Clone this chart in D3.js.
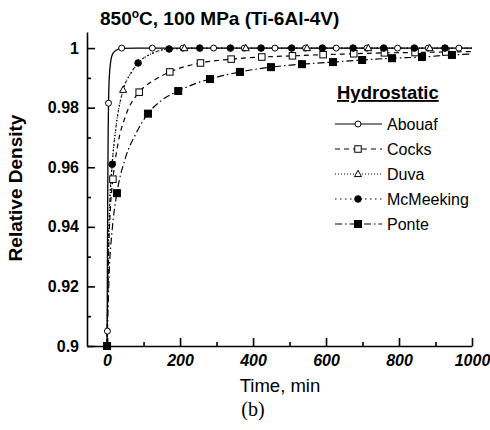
<!DOCTYPE html>
<html>
<head>
<meta charset="utf-8">
<script src="https://cdn.jsdelivr.net/npm/d3@7"></script>
<style>
  body { margin: 0; background: #fff; }
  text { font-family: "Liberation Sans", Arial, sans-serif; fill: #000; }
</style>
</head>
<body>
<div id="chart"></div>
<script>
// tick values and labels
const xTicks = [0, 200, 400, 600, 800, 1000];
const xMinor = [100, 300, 500, 700, 900];
const yTicks = [0.9, 0.92, 0.94, 0.96, 0.98, 1];
const yTickLabels = ["0.9", "0.92", "0.94", "0.96", "0.98", "1"];
const yMinor = [0.91, 0.93, 0.95, 0.97, 0.99];

// series names (legend order)
const names = ["Abouaf", "Cocks", "Duva", "McMeeking", "Ponte"];

// curves: [time (min), relative density]
const abouafLine = [[0, 0.9], [1, 0.93], [2, 0.955], [3, 0.972], [4, 0.9815], [6, 0.99], [10, 0.9955], [15, 0.998], [25, 0.9993], [40, 0.9999], [80, 1], [1000, 1]];
const cocksLine = [[0, 0.9], [4, 0.93], [9, 0.946], [16, 0.956], [30, 0.968], [50, 0.977], [88, 0.9852], [130, 0.9893], [172, 0.992], [256, 0.995], [340, 0.9963], [424, 0.997], [508, 0.9974], [592, 0.9978], [676, 0.9981], [760, 0.9984], [844, 0.9985], [928, 0.9987], [1000, 0.9988]];
const duvaLine = [[0, 0.9], [3, 0.928], [7, 0.946], [14, 0.961], [25, 0.974], [44, 0.986], [65, 0.9915], [85, 0.995], [120, 0.998], [170, 0.9997], [260, 1], [1000, 1]];
const mcmeekingLine = [[0, 0.9], [3, 0.93], [7, 0.948], [14, 0.961], [25, 0.974], [44, 0.986], [65, 0.9915], [85, 0.995], [120, 0.998], [170, 0.9997], [260, 1], [1000, 1]];
const ponteLine = [[0, 0.9], [6, 0.925], [14, 0.939], [27, 0.9513], [50, 0.963], [80, 0.9715], [112, 0.978], [150, 0.9825], [195, 0.9856], [240, 0.988], [282, 0.9896], [364, 0.992], [449, 0.9936], [534, 0.9946], [619, 0.9953], [699, 0.996], [781, 0.9966], [863, 0.997], [945, 0.9977], [1000, 0.998]];

// marker points
const abouafMarks = [[1, 0.905], [4, 0.9815], [40, 1], [124, 1], [208, 1], [292, 1], [376, 1], [460, 1], [544, 1], [628, 1], [712, 1], [796, 1], [880, 1], [964, 1]];
const cocksMarks = [[16, 0.956], [88, 0.9852], [172, 0.992], [256, 0.995], [340, 0.9963], [424, 0.997], [508, 0.9974], [592, 0.9978], [676, 0.9981], [760, 0.9984], [844, 0.9985], [928, 0.9987]];
const duvaMarks = [[44, 0.986], [212, 1], [380, 1], [548, 1], [716, 1], [884, 1]];
const mcmeekingMarks = [[14, 0.961], [85, 0.995], [170, 0.9997], [254, 1], [338, 1], [422, 1], [506, 1], [590, 1], [674, 1], [758, 1], [842, 1], [926, 1]];
const ponteMarks = [[0, 0.9], [27, 0.9513], [112, 0.978], [195, 0.9856], [282, 0.9896], [364, 0.992], [449, 0.9936], [534, 0.9946], [619, 0.9953], [699, 0.996], [781, 0.9966], [863, 0.997], [945, 0.9977]];

const width = 490, height = 430;

const svg = d3.select("#chart")
  .append("svg")
  .attr("width", width)
  .attr("height", height);

// scales (x axis starts a bit left of t=0, y axis runs a bit above 1)
const x = d3.scaleLinear().domain([-55, 1000]).range([87, 472]);
const y = d3.scaleLinear().domain([0.9, 1.0054]).range([346, 32]);

// style per series
const styles = {
  Abouaf:    {line: abouafLine, marks: abouafMarks, dash: null, shape: "circle", fill: false},
  Cocks:     {line: cocksLine, marks: cocksMarks, dash: "5,4", shape: "square", fill: false},
  Duva:      {line: duvaLine, marks: duvaMarks, dash: "1,2", shape: "triangle", fill: false},
  McMeeking: {line: mcmeekingLine, marks: mcmeekingMarks, dash: "1.5,3.5", shape: "circle", fill: true},
  Ponte:     {line: ponteLine, marks: ponteMarks, dash: "7,3,1.5,3", shape: "square", fill: true}
};

// axes
const xAxis = svg.append("g")
  .attr("transform", `translate(0,${y(0.9)})`)
  .call(d3.axisBottom(x).tickValues(xTicks).tickSizeInner(-8).tickSizeOuter(0).tickPadding(9)
    .tickFormat(d3.format("d")));
xAxis.selectAll("text")
  .style("font-size", "16px")
  .style("font-style", "italic")
  .style("font-weight", "bold");

svg.append("g")
  .attr("transform", `translate(0,${y(0.9)})`)
  .call(d3.axisBottom(x).tickValues(xMinor).tickSize(-4).tickFormat(""))
  .select(".domain").remove();

const yAxis = svg.append("g")
  .attr("transform", `translate(${x(-55)},0)`)
  .call(d3.axisLeft(y).tickValues(yTicks).tickSizeInner(-8).tickSizeOuter(0).tickPadding(8)
    .tickFormat((d, i) => yTickLabels[i]));
yAxis.selectAll("text")
  .style("font-size", "16px")
  .style("font-weight", "bold");

svg.append("g")
  .attr("transform", `translate(${x(-55)},0)`)
  .call(d3.axisLeft(y).tickValues(yMinor).tickSize(-4).tickFormat(""))
  .select(".domain").remove();

svg.selectAll(".domain, .tick line")
  .attr("stroke", "#000")
  .attr("stroke-width", 1.6);

// curves
const line = d3.line()
  .x(d => x(d[0]))
  .y(d => y(d[1]))
  .curve(d3.curveMonotoneX);

names.forEach(n => {
  const s = styles[n];
  svg.append("path")
    .datum(s.line)
    .attr("fill", "none")
    .attr("stroke", "#000")
    .attr("stroke-width", n === "Abouaf" ? 1.3 : 1.2)
    .attr("stroke-dasharray", s.dash)
    .attr("d", line);
});

// marker drawing
function marker(g, shape, fill, cx, cy) {
  if (shape === "circle") {
    g.append("circle")
      .attr("cx", cx).attr("cy", cy)
      .attr("r", fill ? 3.3 : 3)
      .attr("fill", fill ? "#000" : "#fff")
      .attr("stroke", "#000").attr("stroke-width", 1);
  } else if (shape === "square") {
    const s = fill ? 7 : 6.5;
    g.append("rect")
      .attr("x", cx - s / 2).attr("y", cy - s / 2)
      .attr("width", s).attr("height", s)
      .attr("fill", fill ? "#000" : "#fff")
      .attr("stroke", "#000").attr("stroke-width", 1);
  } else {
    g.append("path")
      .attr("d", `M${cx},${cy - 3.8}L${cx + 3.5},${cy + 2.6}L${cx - 3.5},${cy + 2.6}Z`)
      .attr("fill", "#fff")
      .attr("stroke", "#000").attr("stroke-width", 1);
  }
}

names.forEach(n => {
  const s = styles[n];
  const g = svg.append("g");
  s.marks.forEach(d => marker(g, s.shape, s.fill, x(d[0]), y(d[1])));
});

// title
const title = svg.append("text")
  .attr("x", 100)
  .attr("y", 25)
  .style("font-size", "19px")
  .style("font-weight", "bold");
title.append("tspan").text("850");
title.append("tspan").attr("dy", -7).style("font-size", "12px").text("o");
title.append("tspan").attr("dy", 7).text("C, 100 MPa (Ti-6Al-4V)");

// axis titles
svg.append("text")
  .attr("transform", `translate(22,188) rotate(-90)`)
  .attr("text-anchor", "middle")
  .style("font-size", "19px")
  .style("font-weight", "bold")
  .text("Relative Density");

svg.append("text")
  .attr("x", 280)
  .attr("y", 392)
  .attr("text-anchor", "middle")
  .style("font-size", "18.5px")
  .text("Time, min");

svg.append("text")
  .attr("x", 253)
  .attr("y", 416)
  .attr("text-anchor", "middle")
  .style("font-family", "'Liberation Serif', 'DejaVu Serif', serif")
  .style("font-size", "20px")
  .text("(b)");

// legend
const legend = svg.append("g");
legend.append("text")
  .attr("x", 337)
  .attr("y", 99)
  .style("font-size", "18.5px")
  .style("font-weight", "bold")
  .style("text-decoration", "underline")
  .text("Hydrostatic");

names.forEach((n, i) => {
  const s = styles[n];
  const ly = 124 + i * 25;
  legend.append("line")
    .attr("x1", 335).attr("x2", 382)
    .attr("y1", ly).attr("y2", ly)
    .attr("stroke", "#000")
    .attr("stroke-width", 1.2)
    .attr("stroke-dasharray", s.dash);
  marker(legend, s.shape, s.fill, 358, ly);
  legend.append("text")
    .attr("x", 387)
    .attr("y", ly + 6)
    .style("font-size", "16px")
    .text(n);
});
</script>
</body>
</html>
